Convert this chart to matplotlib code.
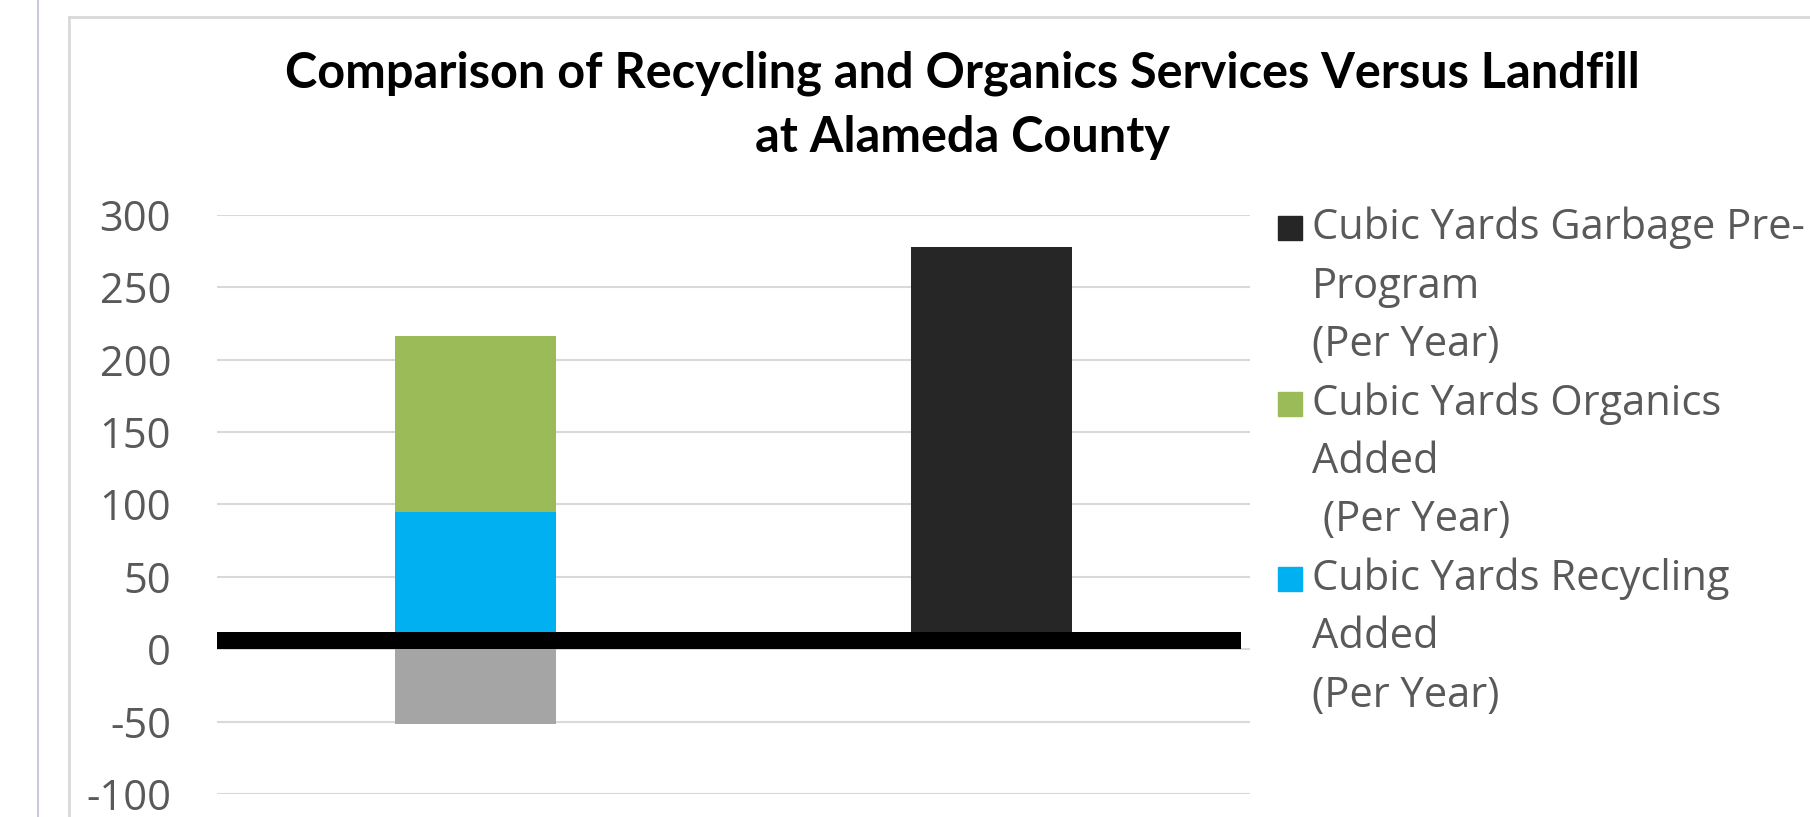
import numpy as np
import matplotlib
matplotlib.use("Agg")
import matplotlib.pyplot as plt
from matplotlib.patches import Rectangle
from matplotlib.lines import Line2D

plt.rcParams["axes.unicode_minus"] = False

# data
categories = ["With Program", "Pre-Program"]
recycling = [95, 0]
organics = [121, 0]
garbage_pre = [0, 278]
garbage_reduced = [-52, 0]

legend_labels = [
    "Cubic Yards Garbage Pre-\nProgram\n(Per Year)",
    "Cubic Yards Organics\nAdded\n (Per Year)",
    "Cubic Yards Recycling\nAdded\n(Per Year)",
]
legend_colors = ["#262626", "#9BBB59", "#00B0F0"]

W, H = 1810, 817
fig = plt.figure(figsize=(W / 100, H / 100), dpi=100)
fig.patch.set_facecolor("white")

# screenshot frame lines
fig.add_artist(Line2D([38 / W, 38 / W], [0, 1], color="#CFC8E4", lw=1.5))
fig.add_artist(Line2D([69 / W, 69 / W], [0, 1 - 17 / H], color="#D9D9D9", lw=2))
fig.add_artist(Line2D([69 / W, 1], [1 - 17 / H, 1 - 17 / H], color="#D9D9D9", lw=2))

left, right = 217 / W, 1250 / W
top, bottom = 1 - 214.7 / H, 1 - 794 / H
ax = fig.add_axes([left, bottom, right - left, top - bottom])

x = np.arange(len(categories))
w = 0.3125
ax.bar(x, recycling, w, color="#00B0F0", zorder=2)
ax.bar(x, organics, w, bottom=recycling, color="#9BBB59", zorder=2)
ax.bar(x, garbage_pre, w, color="#262626", zorder=2)
ax.bar(x, garbage_reduced, w, color="#A5A5A5", zorder=2)

# thick black line drawn over the baseline
ax.axhspan(0.2, 12, xmin=0, xmax=0.991, color="black", zorder=3, lw=0)

ax.set_xlim(-0.5, 1.5)
ax.set_ylim(-100, 300)
ax.set_yticks(np.arange(-100, 301, 50))
ax.set_xticks([])
ax.grid(axis="y", color="#D9D9D9", lw=1.5, zorder=0)
ax.set_axisbelow(True)
for s in ax.spines.values():
    s.set_visible(False)
ax.tick_params(axis="y", length=0, pad=33, labelsize=30, labelcolor="#595959")
for lab in ax.get_yticklabels():
    lab.set_family("Open Sans")

fig.text(834 * 1.1543 / W, 1 - 73 / H,
         "Comparison of Recycling and Organics Services Versus Landfill",
         ha="center", va="center", fontsize=35, fontweight="bold", family="Lato")
fig.text(834 * 1.1543 / W, 1 - 138 / H, "at Alameda County",
         ha="center", va="center", fontsize=35, fontweight="bold", family="Lato")

# legend drawn by hand so the swatch sits on the first line
line_h = 58.5
y0 = 228
for i, (lab, col) in enumerate(zip(legend_labels, legend_colors)):
    for j, part in enumerate(lab.split("\n")):
        yy = y0 + line_h * (3 * i + j)
        fig.text(1312 / W, 1 - yy / H, part, ha="left", va="center",
                 fontsize=30, color="#595959", family="Open Sans")
    yc = y0 + line_h * 3 * i
    fig.add_artist(Rectangle((1278 / W, 1 - (yc + 12) / H), 24 / W, 24 / H,
                             color=col, transform=fig.transFigure))

fig.savefig("out.png", dpi=100)
